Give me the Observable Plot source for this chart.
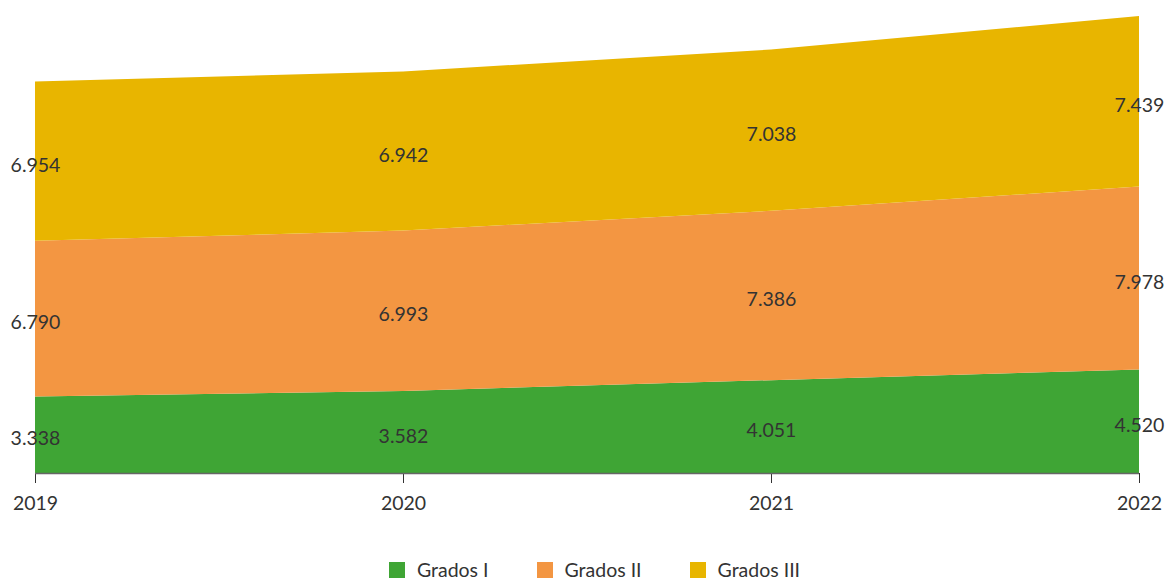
<!DOCTYPE html>
<html>
<head>
<meta charset="utf-8">
<script src="https://cdn.jsdelivr.net/npm/d3@7"></script>
<script src="https://cdn.jsdelivr.net/npm/@observablehq/plot@0.6"></script>
<style>
  body { margin: 0; background: #fff; font-family: "Source Sans Pro", Lato, "Noto Sans", sans-serif; }
  #chart svg { display: block; }
  #legend { display: flex; justify-content: center; gap: 48px; font-size: 19.5px; color: #333; height: 39px; align-items: center; margin-left: 24px; margin-top: 10px; }
  #legend .item { display: flex; align-items: center; gap: 12px; }
  #legend .sw { width: 16px; height: 16px; display: inline-block; }
</style>
</head>
<body>
<div id="chart"></div>
<div id="legend"></div>
<script>
const years = [2019, 2020, 2021, 2022];
const series = ["Grados I", "Grados II", "Grados III"];
const gradosI = [3338, 3582, 4051, 4520];
const gradosII = [6790, 6993, 7386, 7978];
const gradosIII = [6954, 6942, 7038, 7439];
const colors = ["#3fa535", "#f39642", "#e8b500"];

const valuesBySeries = [gradosI, gradosII, gradosIII];
const data = [];
series.forEach((s, i) => years.forEach((y, j) => data.push({year: y, serie: s, value: valuesBySeries[i][j]})));

const fmt = v => d3.format(",")(v).replace(/,/g, ".");

const chart = Plot.plot({
  width: 1165,
  height: 540,
  marginLeft: 35,
  marginRight: 26,
  marginTop: 16,
  marginBottom: 67,
  style: {fontFamily: '"Source Sans Pro", Lato, "Noto Sans", sans-serif', fontSize: "19.5px", color: "#333"},
  x: {domain: [2019, 2022], ticks: years, tickFormat: "d", label: null, tickSize: 10, tickPadding: 13},
  y: {axis: null, domain: [0, 19937]},
  color: {domain: series, range: colors},
  marks: [
    Plot.areaY(data, {x: "year", y: "value", z: "serie", fill: "serie", order: series}),
    Plot.ruleY([0], {stroke: "#666", strokeWidth: 1.5}),
    Plot.text(data, Plot.stackY({x: "year", y: "value", z: "serie", order: series, text: d => fmt(d.value), fill: "#333", fontSize: 19.5, dy: 4}))
  ]
});
document.getElementById("chart").appendChild(chart);

const legend = document.getElementById("legend");
series.forEach((s, i) => {
  const item = document.createElement("div");
  item.className = "item";
  item.innerHTML = `<span class="sw" style="background:${colors[i]}"></span><span>${s}</span>`;
  legend.appendChild(item);
});
</script>
</body>
</html>
